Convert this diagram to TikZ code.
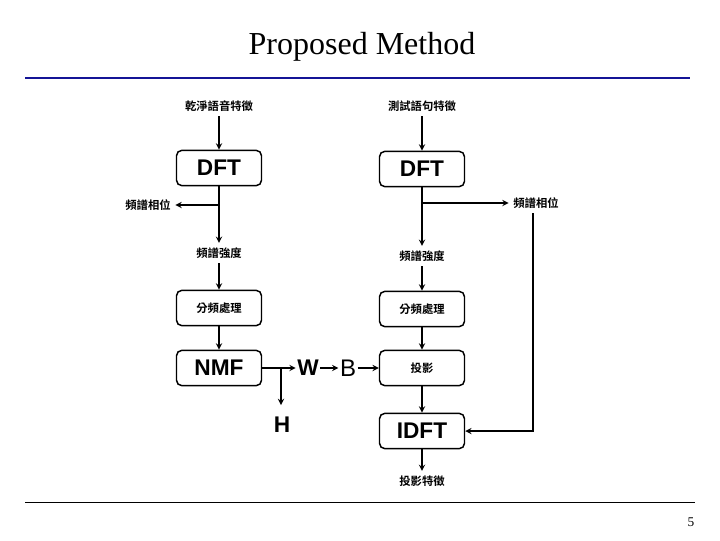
\documentclass[tikz,border=0pt]{standalone}
\usepackage{fontspec}
\setmainfont{Liberation Serif}
\newfontfamily\cjk{Noto Sans CJK TC}[BoldFont=* Bold]
\newfontfamily\sans{Liberation Sans}
\begin{document}
\begin{tikzpicture}[x=0.75pt,y=-0.75pt,
  box/.style={draw,line width=1.1pt,rounded corners=4pt,minimum width=63.75pt,minimum height=26.5pt,inner sep=0pt},
  big/.style={font=\sans\bfseries\fontsize{17}{17}\selectfont},
  cj/.style={font=\cjk\bfseries\fontsize{8.5}{9}\selectfont},
  arr/.style={->,line width=1.1pt,>=stealth}]
\useasboundingbox (0,0) rectangle (720,540);
\node (title) at (362,47) {\fontsize{24}{26}\selectfont Proposed Method};
\draw[line width=2.2pt,color={rgb,255:red,20;green,20;blue,150}] (25,78) -- (690,78);
\draw[thin] (25,502) -- (695,502);
\node (pg) at (691,522) {\fontsize{10}{12}\selectfont 5};
% left column
\node[cj] (lin) at (219,106) {乾淨語音特徵};
\node[box,big] (ldft) at (219,168) {DFT};
\node[cj] (lph) at (148,205) {頻譜相位};
\node[cj] (lmag) at (219,253) {頻譜強度};
\node[box,cj] (lsub) at (219,308) {分頻處理};
\node[box,big] (nmf) at (219,368) {NMF};
\node[font=\sans\bfseries\fontsize{17}{17}\selectfont,inner sep=1pt] (w) at (308,368) {W};
\node[font=\sans\fontsize{18}{18}\selectfont,inner sep=1pt] (b) at (348,368) {B};
\node[big] (h) at (282,425) {H};
\coordinate (lb) at (219,205);
\coordinate (nb) at (281,368);
\draw[arr] (lin) -- (ldft);
\draw[arr] (ldft) -- (lmag);
\draw[arr] (lb) -- (lph);
\draw[arr] (lmag) -- (lsub);
\draw[arr] (lsub) -- (nmf);
\draw[arr] (nmf) -- (w);
\draw[arr] (nb) -- (281,405);
\draw[arr] (w.east) -- (b.west);
% right column
\node[cj] (rin) at (422,106) {測試語句特徵};
\node[box,big] (rdft) at (422,169) {DFT};
\node[cj] (rph) at (536,203) {頻譜相位};
\node[cj] (rmag) at (422,256) {頻譜強度};
\node[box,cj] (rsub) at (422,309) {分頻處理};
\node[box,cj] (proj) at (422,368) {投影};
\node[box,big] (idft) at (422,431) {IDFT};
\node[cj] (out) at (422,481) {投影特徵};
\coordinate (rb) at (422,203);
\coordinate (rc) at (533,431);
\draw[arr] (rin) -- (rdft);
\draw[arr] (rdft) -- (rmag);
\draw[arr] (rb) -- (rph);
\draw[arr] (rmag) -- (rsub);
\draw[arr] (rsub) -- (proj);
\draw[arr] (b) -- (proj);
\draw[arr] (proj) -- (idft);
\draw[arr] (idft) -- (out);
\draw[arr] (533,213) -- (rc) -- (idft);
\end{tikzpicture}
\end{document}
